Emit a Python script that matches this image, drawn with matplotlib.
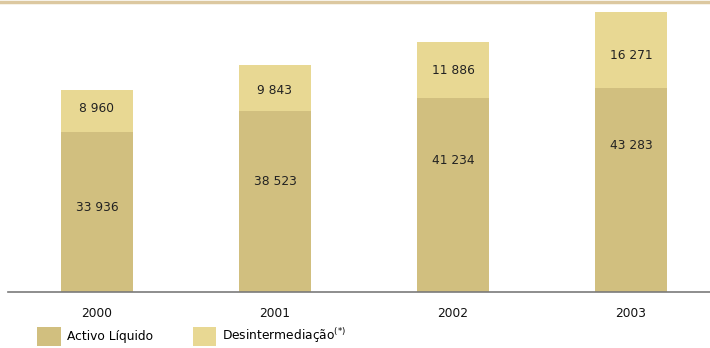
import numpy as np
import matplotlib.pyplot as plt
from matplotlib.lines import Line2D

anos = ['2000', '2001', '2002', '2003']
activo_liquido = [33936, 38523, 41234, 43283]
desintermediacao = [8960, 9843, 11886, 16271]

cor_activo = '#d1bf7f'
cor_desint = '#e8d893'

fig = plt.figure(figsize=(7.1, 3.48), dpi=100)
ax = fig.add_axes([8 / 710, 56 / 348, 702 / 710, 289 / 348])

x = np.arange(len(anos))
larg = 0.405
b1 = ax.bar(x, activo_liquido, larg, color=cor_activo, label='Activo Líquido')
b2 = ax.bar(x, desintermediacao, larg, bottom=activo_liquido, color=cor_desint,
            label='Desintermediação$^{(*)}$')

def fmt(v):
    return f'{v:,}'.replace(',', ' ')

# altura relativa dos rótulos dentro de cada segmento
frac_activo = [0.53, 0.61, 0.68, 0.72]
frac_desint = [0.56, 0.43, 0.49, 0.43]

for i in range(len(anos)):
    ax.text(x[i], activo_liquido[i] * frac_activo[i], fmt(activo_liquido[i]),
            ha='center', va='center', fontsize=8.8, color='#222222')
    ax.text(x[i], activo_liquido[i] + desintermediacao[i] * frac_desint[i],
            fmt(desintermediacao[i]),
            ha='center', va='center', fontsize=8.8, color='#222222')

ax.set_xlim(-0.5, 3.444)
ax.set_ylim(0, 61460)
ax.set_yticks([])
ax.set_xticks(x)
ax.set_xticklabels(anos, fontsize=8.8, color='#111111')
ax.tick_params(axis='x', length=0, pad=11)
for s in ['top', 'right', 'left']:
    ax.spines[s].set_visible(False)
ax.spines['bottom'].set_color('#7a7a7a')
ax.spines['bottom'].set_linewidth(1.2)

# linha no topo
fig.add_artist(Line2D([0, 1], [1 - 1.5 / 348, 1 - 1.5 / 348], transform=fig.transFigure,
                      color='#dcc8a0', linewidth=2.5))

fig.legend(handles=[b1, b2], loc='lower left', bbox_to_anchor=(30 / 710, -5 / 348),
           ncol=2, frameon=False, fontsize=8.8, handlelength=1.95, handleheight=2.0,
           handletextpad=0.5, columnspacing=3.2, borderpad=0.1)

fig.savefig('out.png', dpi=100)
